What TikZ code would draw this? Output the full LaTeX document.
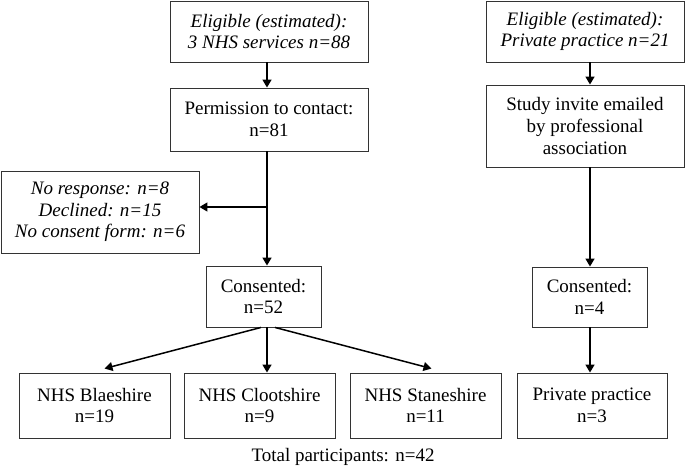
\documentclass[tikz,border=0pt]{standalone}
\usepackage{fontspec}
\setmainfont{Liberation Serif}
\usetikzlibrary{arrows.meta,calc}
\tikzset{
  box/.style={draw=black!80, line width=0.9pt, inner sep=0pt, align=center,
    font=\fontsize{19}{21.7}\selectfont},
  arr/.style={line width=1.5pt, -{Triangle[length=8pt,width=9pt]}},
  ln/.style={line width=1.5pt}
}
\begin{document}
\begin{tikzpicture}[x=1pt,y=-1pt]
\useasboundingbox (0,0) rectangle (685,468);
\coordinate (colL) at (267,0);
\coordinate (colR) at (590,0);
\node[box, minimum width=198pt, minimum height=61pt] (elig) at (269,31.5)
  {\itshape Eligible (estimated):\\\itshape 3 NHS services n=88};
\node[box, minimum width=198pt, minimum height=63pt] (perm) at (269,119.5)
  {Permission to contact:\\n=81};
\node[box, minimum width=198pt, minimum height=82pt] (excl) at (100,212)
  {\itshape No response: n=8\\\itshape Declined: n=15\\\itshape No consent form: n=6};
\node[box, minimum width=115pt, minimum height=61pt] (cons) at (263.5,296.5)
  {Consented:\\n=52};
\node[box, minimum width=151pt, minimum height=65pt] (blae) at (94.5,405.5)
  {NHS Blaeshire\\n=19};
\node[box, minimum width=151pt, minimum height=65pt] (cloot) at (259.5,405.5)
  {NHS Clootshire\\n=9};
\node[box, minimum width=151pt, minimum height=65pt] (stane) at (425.5,405.5)
  {NHS Staneshire\\n=11};
\node[box, minimum width=150pt, minimum height=65pt] (priv) at (592,405.5)
  {Private practice\\n=3};
\node[box, minimum width=198pt, minimum height=61pt] (eligp) at (585,31.5)
  {\itshape Eligible (estimated):\\\itshape Private practice n=21};
\node[box, minimum width=198pt, minimum height=82pt] (study) at (585,126)
  {Study invite emailed\\by professional\\association};
\node[box, minimum width=115pt, minimum height=60pt] (cons2) at (589.5,297)
  {Consented:\\n=4};
\node[font=\fontsize{19}{21.7}\selectfont] (total) at (343,457) {Total participants: n=42};
% left column
\draw[arr] (elig.south -| colL) -- (perm.north -| colL);
\draw[arr] (perm.south -| colL) -- (cons.north -| colL);
\coordinate (branch) at ($(colL |- excl.east)+(0,-5)$);
\draw[arr] (branch) -- (branch -| excl.east);
\draw[arr] ([xshift=-2.5pt]cons.south) -- ([xshift=10pt,yshift=4pt]blae.north);
\draw[arr] (cons.south -| colL) -- (cloot.north -| colL);
\draw[arr] ([xshift=11.5pt]cons.south) -- ([xshift=6pt,yshift=4pt]stane.north);
% right column
\draw[arr] (eligp.south -| colR) -- (study.north -| colR);
\draw[arr] (study.south -| colR) -- (cons2.north -| colR);
\draw[arr] (cons2.south -| colR) -- (priv.north -| colR);
\end{tikzpicture}
\end{document}
